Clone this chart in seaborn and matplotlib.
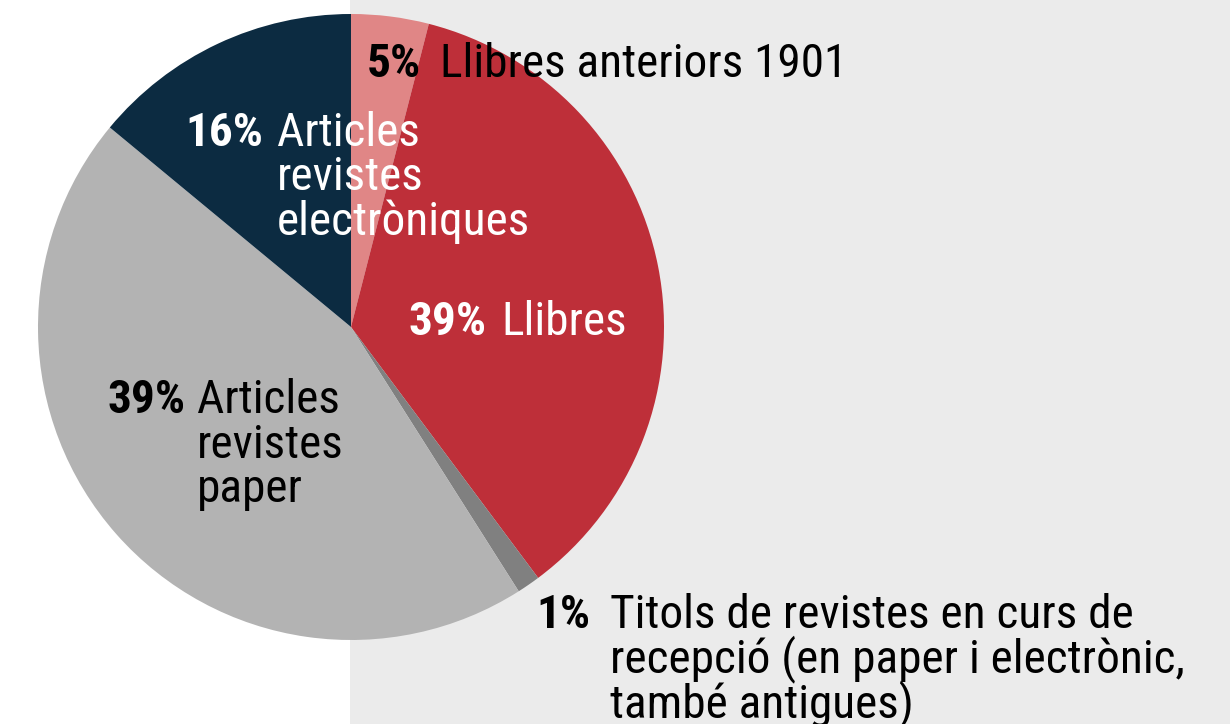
import matplotlib
matplotlib.use("Agg")
import matplotlib.pyplot as plt
from matplotlib import font_manager as fm
import seaborn as sns

# -------------------------------
# DATA
# -------------------------------
categories = [
    "Llibres anteriors 1901",
    "Llibres",
    "Titols de revistes en curs de\nrecepció (en paper i electrònic,\ntambé antigues)",
    "Articles\nrevistes\npaper",
    "Articles\nrevistes\nelectròniques",
]
slice_values = [4.0, 35.8, 1.2, 45.0, 14.0]
pct_labels = ["5%", "39%", "1%", "39%", "16%"]
slice_colors = ["#E08686", "#BE2F39", "#808080", "#B3B3B3", "#0C2B41"]

# -------------------------------
# STYLE
# -------------------------------
sns.set_style("white")

# pick a narrow font if there is one
installed = {f.name for f in fm.fontManager.ttflist}
family = "DejaVu Sans"
for cand in ["Roboto Condensed", "Liberation Sans Narrow", "Arial Narrow", "Open Sans Condensed"]:
    if cand in installed:
        family = cand
        break
plt.rcParams["font.family"] = [family, "DejaVu Sans"]
stretch = "condensed" if family == "DejaVu Sans" else "normal"

palette = sns.color_palette(slice_colors)

W, H = 1230, 724
fig = plt.figure(figsize=(W / 100, H / 100), dpi=100)
ax = fig.add_axes([0, 0, 1, 1])

# grey panel on the right half
ax.add_patch(plt.Rectangle((350, 0), W - 350, H, color="#EBEBEB", zorder=0, lw=0))

ax.pie(slice_values, colors=palette, startangle=90, counterclock=False,
       center=(351, H - 327), radius=313, frame=True,
       wedgeprops=dict(linewidth=0))
ax.set_xlim(0, W)
ax.set_ylim(0, H)
ax.set_aspect("equal")
ax.axis("off")

# -------------------------------
# LABELS  (positions in pixels from top-left)
# -------------------------------
fs = 34
step = 44.5
label_pos = [  # (pct right edge, text left x, first baseline, colour)
    (421, 440, 77, "black"),
    (487, 501, 335, "white"),
    (590, 610, 628, "black"),
    (186, 197, 413, "black"),
    (263, 277, 146, "white"),
]
for cat, pct, (px, tx, by, col) in zip(categories, pct_labels, label_pos):
    ax.text(px, H - by, pct, ha="right", va="baseline", fontsize=fs,
            fontweight="bold", fontstretch=stretch, color=col)
    for i, line in enumerate(cat.split("\n")):
        ax.text(tx, H - (by + i * step), line, ha="left", va="baseline",
                fontsize=fs, fontstretch=stretch, color=col)

fig.savefig("out.png", dpi=100)
